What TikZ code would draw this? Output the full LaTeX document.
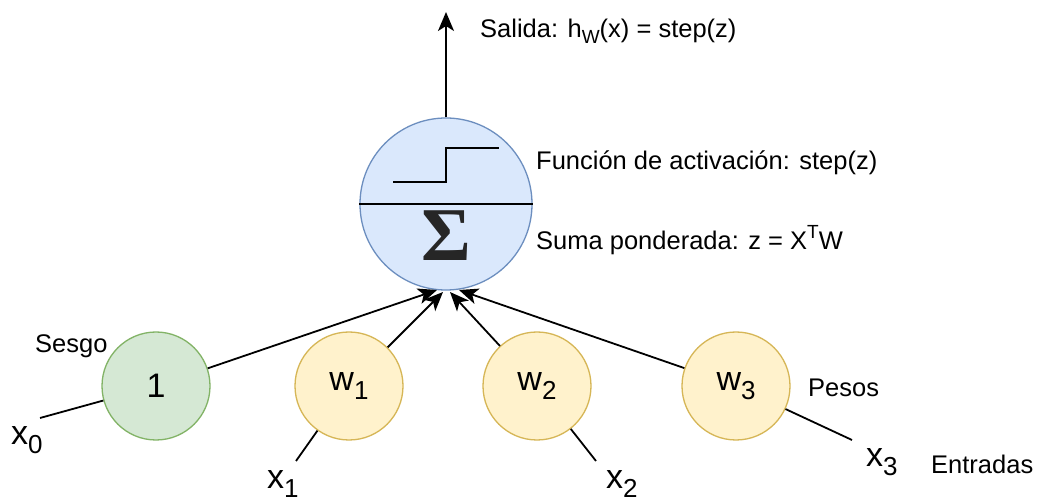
\documentclass[tikz,border=0pt]{standalone}
\usepackage{fontspec}
\setmainfont{Liberation Sans}
\newfontfamily\sigfont{Liberation Serif}
\usetikzlibrary{arrows.meta}
\definecolor{sumfill}{HTML}{DAE8FC}
\definecolor{sumdraw}{HTML}{6C8EBF}
\definecolor{greenfill}{HTML}{D5E8D4}
\definecolor{greendraw}{HTML}{82B366}
\definecolor{yelfill}{HTML}{FFF2CC}
\definecolor{yeldraw}{HTML}{D6B656}
\newcommand{\tsz}{\fontsize{25.5}{30}\selectfont}
\newcommand{\lsz}{\fontsize{34}{40}\selectfont}
\newcommand{\lsub}[1]{\raisebox{-0.28em}{\fontsize{26}{26}\selectfont #1}}
\newcommand{\tsub}[1]{\raisebox{-0.25em}{\fontsize{19}{19}\selectfont #1}}
\newcommand{\tsup}[1]{\raisebox{0.45em}{\fontsize{19}{19}\selectfont #1}}
\tikzset{
  sumnode/.style={circle, draw=sumdraw, fill=sumfill, line width=1.3pt, minimum size=172pt, inner sep=0pt},
  biasnode/.style={circle, draw=greendraw, fill=greenfill, line width=1.3pt, minimum size=108pt, inner sep=0pt, font=\lsz},
  weightnode/.style={circle, draw=yeldraw, fill=yelfill, line width=1.3pt, minimum size=108pt, inner sep=0pt, font=\lsz},
  conn/.style={line width=1.8pt, draw=black},
  arr/.style={conn, -{Stealth[length=19pt, width=16pt, inset=5pt]}},
  txt/.style={anchor=west, inner sep=0pt, font=\tsz},
  lbl/.style={anchor=west, inner sep=0pt, font=\lsz},
}
\begin{document}
\begin{tikzpicture}[x=1pt, y=-1pt]
\useasboundingbox (0,0) rectangle (1039,502);
\fill[white] (0,0) rectangle (1039,502);

% nodes
\node[sumnode] (sum) at (446,204) {};
\draw[line width=1.8pt] (sum.west) -- (sum.east);
\draw[line width=1.8pt] (393,182) -- (446,182) -- (446,148) -- (499,148);
\node[inner sep=0pt, text=black!85] (sigma) at (446,236) {\sigfont\bfseries\fontsize{76}{76}\selectfont Σ};

\node[biasnode] (n1) at (156,386) {1};
\node[weightnode] (w1) at (349,386) {w\lsub{1}};
\node[weightnode] (w2) at (537,386) {w\lsub{2}};
\node[weightnode] (w3) at (736,386) {w\lsub{3}};

% free ends
\coordinate (x0e) at (40,418);
\coordinate (x1e) at (296,461);
\coordinate (x2e) at (596,461);
\coordinate (x3e) at (852,440);
\coordinate (t1) at (437,290);
\coordinate (t2) at (443,292);
\coordinate (t3) at (450,292);
\coordinate (t4) at (459,290);
\coordinate (out) at (446,12);

% connectors
\draw[conn] (x0e) -- (n1);
\draw[conn] (x1e) -- (w1);
\draw[conn] (x2e) -- (w2);
\draw[conn] (x3e) -- (w3);
\draw[arr] (n1) -- (t1);
\draw[arr] (w1) -- (t2);
\draw[arr] (w2) -- (t3);
\draw[arr] (w3) -- (t4);
\draw[arr] (sum.north) -- (out);

% texts
\node[txt] (salida) at (480,31) {Salida: h\tsub{W}(x) = step(z)};
\node[txt] (func) at (536,163) {Función de activación: step(z)};
\node[txt] (suma) at (536,240) {Suma ponderada: z = X\tsup{T}W};
\node[txt] (sesgo) at (35,346) {Sesgo};
\node[txt] (pesos) at (808,388) {Pesos};
\node[txt] (entr) at (931,464) {Entradas};
\node[lbl] (lx0) at (11,440) {x\lsub{0}};
\node[lbl] (lx1) at (267,484) {x\lsub{1}};
\node[lbl] (lx2) at (606,484) {x\lsub{2}};
\node[lbl] (lx3) at (866,462) {x\lsub{3}};
\end{tikzpicture}
\end{document}
